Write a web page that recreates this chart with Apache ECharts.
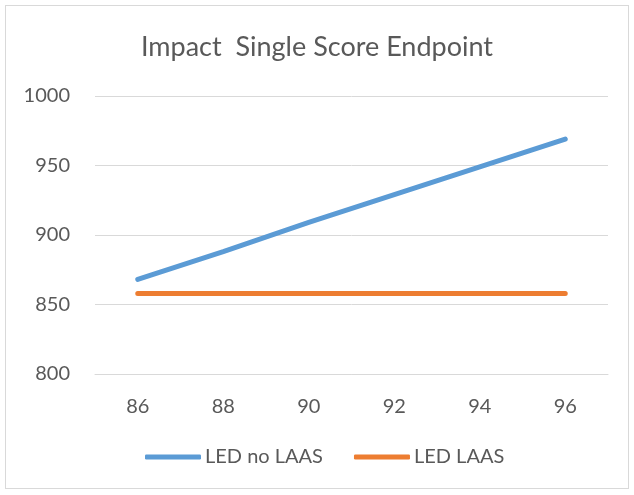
<!DOCTYPE html>
<html>
<head>
<meta charset="utf-8">
<script src="https://cdn.jsdelivr.net/npm/echarts@6/dist/echarts.min.js"></script>
<style>
html,body{margin:0;padding:0;background:#fff;}
#frame{position:absolute;left:5px;top:5px;width:624px;height:484px;border:1px solid #d9d9d9;box-sizing:border-box;}
#chart{position:absolute;left:0;top:0;width:634px;height:495px;}
</style>
</head>
<body>
<div id="frame"></div>
<div id="chart"></div>
<script>
const titleText = 'Impact  Single Score Endpoint';
const categories = ['86', '88', '90', '92', '94', '96'];
const ledNoLaas = [868, 888, 909, 929, 949, 969];
const ledLaas = [858, 858, 858, 858, 858, 858];
const yTicks = { min: 800, max: 1000, interval: 50 };

const chart = echarts.init(document.getElementById('chart'), null, { renderer: 'canvas' });
const textColor = '#595959';
const font = 'Lato';
chart.setOption({
  backgroundColor: 'transparent',
  animation: false,
  title: {
    text: titleText,
    left: 'center',
    top: 29,
    textStyle: { color: textColor, fontSize: 27, fontWeight: 'normal', fontFamily: font }
  },
  legend: {
    bottom: 23,
    left: 140,
    itemWidth: 56,
    itemHeight: 5,
    itemGap: 31,
    icon: 'roundRect',
    textStyle: { color: textColor, fontSize: 20, fontFamily: font, padding: [0, 0, 0, -1] },
    data: ['LED no LAAS', 'LED LAAS']
  },
  grid: { left: 95, right: 26, top: 96, bottom: 121 },
  xAxis: {
    type: 'category',
    data: categories,
    boundaryGap: true,
    axisLine: { show: true, lineStyle: { color: '#d9d9d9', width: 1 } },
    axisTick: { show: false },
    axisLabel: { color: textColor, fontSize: 20, fontFamily: font, margin: 23 },
    splitLine: { show: false }
  },
  yAxis: {
    type: 'value',
    min: yTicks.min,
    max: yTicks.max,
    interval: yTicks.interval,
    axisLine: { show: false },
    axisTick: { show: false },
    axisLabel: { color: textColor, fontSize: 20, fontFamily: font, margin: 25, formatter: v => String(v) },
    splitLine: { lineStyle: { color: '#d9d9d9', width: 1 } }
  },
  series: [
    {
      name: 'LED no LAAS',
      type: 'line',
      data: ledNoLaas,
      symbol: 'none',
      lineStyle: { color: '#5b9bd5', width: 5, cap: 'round' },
      itemStyle: { color: '#5b9bd5' }
    },
    {
      name: 'LED LAAS',
      type: 'line',
      data: ledLaas,
      symbol: 'none',
      lineStyle: { color: '#ed7d31', width: 5, cap: 'round' },
      itemStyle: { color: '#ed7d31' }
    }
  ]
});
</script>
</body>
</html>
